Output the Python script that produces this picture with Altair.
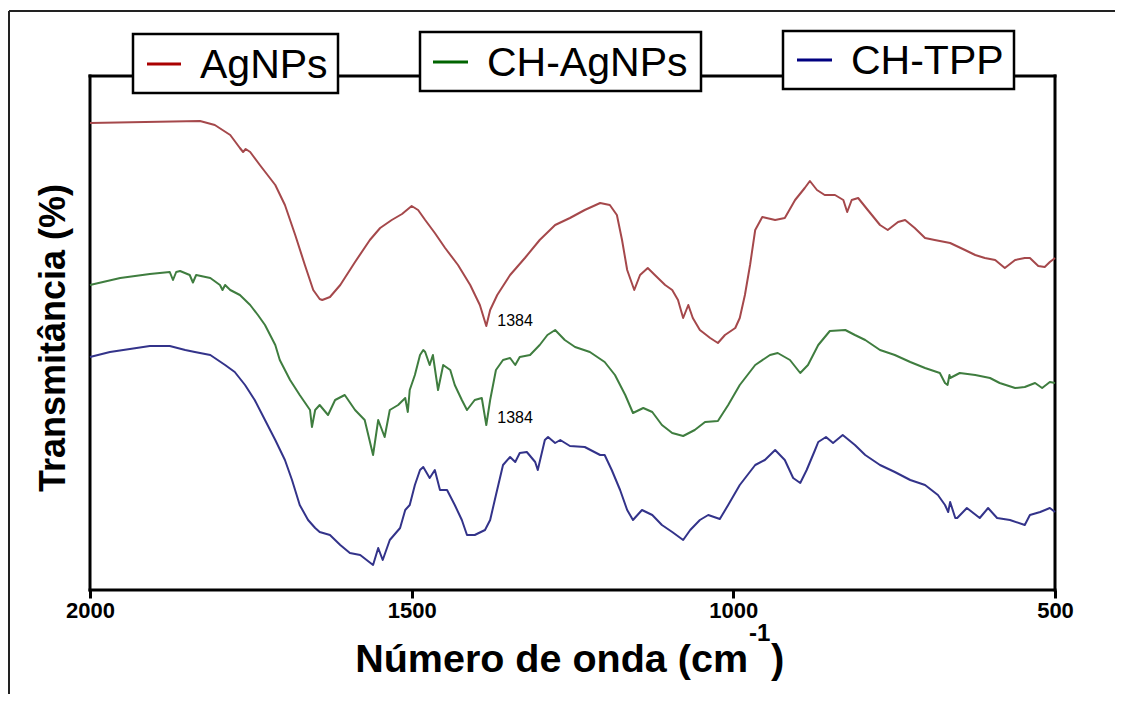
import altair as alt
import pandas as pd

# ---- data (wavenumber cm-1, relative transmittance, arbitrary offset units) ----
agnps_wn = [2000, 1829, 1806, 1782, 1767, 1762, 1758, 1751, 1736, 1712, 1697, 1681, 1666, 1653,
            1643, 1639, 1627, 1611, 1588, 1565, 1549, 1531, 1515, 1500, 1490, 1479, 1464, 1448,
            1428, 1409, 1394, 1384, 1378, 1367, 1347, 1324, 1301, 1277, 1254, 1231, 1207, 1192,
            1181, 1173, 1165, 1154, 1145, 1133, 1122, 1106, 1095, 1086, 1078, 1070, 1063, 1052,
            1036, 1024, 1013, 997, 990, 982, 974, 966, 955, 935, 920, 904, 889, 881, 870, 858,
            842, 829, 823, 816, 806, 791, 772, 760, 744, 733, 718, 702, 687, 663, 640, 624, 609,
            593, 578, 562, 547, 539, 526, 516, 508, 500]
agnps_t = [93.4, 93.8, 93.0, 91.0, 88.4, 87.6, 88.2, 87.6, 85.0, 81.0, 77.0, 71.0, 65.0, 60.0,
           58.2, 58.0, 58.6, 61.0, 65.6, 70.0, 72.4, 74.0, 75.2, 76.8, 76.0, 74.0, 71.4, 68.4,
           65.0, 61.0, 57.0, 52.8, 56.0, 59.0, 63.0, 66.4, 70.0, 73.0, 74.4, 76.0, 77.4, 77.0,
           75.0, 70.0, 64.0, 60.0, 63.0, 64.4, 63.0, 61.0, 60.0, 58.0, 54.4, 57.0, 54.4, 52.0,
           50.4, 49.4, 51.0, 52.4, 54.4, 59.0, 65.0, 72.0, 74.6, 74.0, 74.4, 78.0, 80.4, 81.8,
           80.0, 79.0, 79.0, 78.0, 75.6, 78.0, 78.4, 76.0, 73.0, 72.0, 73.6, 74.0, 72.4, 70.4,
           70.0, 69.4, 68.0, 67.0, 66.4, 66.0, 64.4, 66.0, 66.4, 66.4, 64.8, 64.6, 65.6, 66.4]

chagnps_wn = [2000, 1953, 1907, 1876, 1871, 1866, 1860, 1845, 1840, 1835, 1813, 1798, 1794, 1790,
              1782, 1767, 1751, 1739, 1728, 1712, 1705, 1689, 1674, 1658, 1655, 1650, 1643, 1630,
              1619, 1604, 1588, 1573, 1560, 1552, 1542, 1534, 1521, 1510, 1506, 1503, 1495, 1487,
              1482, 1479, 1472, 1467, 1459, 1451, 1440, 1433, 1422, 1414, 1402, 1391, 1384, 1378,
              1369, 1358, 1347, 1339, 1332, 1316, 1301, 1289, 1277, 1262, 1246, 1223, 1200, 1184,
              1168, 1156, 1140, 1126, 1111, 1095, 1078, 1060, 1044, 1024, 1008, 990, 966, 943, 931,
              912, 896, 884, 868, 850, 826, 811, 795, 772, 749, 725, 702, 679, 671, 667, 664, 663,
              648, 624, 601, 586, 562, 547, 531, 520, 508, 500]
chagnps_t = [61.0, 62.4, 63.2, 63.6, 62.0, 63.6, 63.8, 63.0, 61.5, 63.0, 62.4, 61.0, 60.0, 61.0,
             60.0, 59.0, 57.0, 55.0, 53.0, 49.0, 46.0, 42.0, 39.0, 36.0, 32.6, 36.0, 37.0, 35.0,
             38.0, 39.0, 36.0, 34.0, 27.0, 34.0, 30.6, 36.0, 37.0, 38.4, 35.6, 40.0, 43.0, 47.0,
             48.0, 47.6, 45.0, 47.0, 40.0, 45.0, 44.0, 41.0, 38.0, 36.0, 38.0, 38.4, 33.0, 38.0,
             44.0, 46.0, 46.4, 45.0, 46.6, 47.0, 49.0, 51.0, 52.0, 50.0, 48.6, 47.6, 45.6, 43.0,
             39.0, 35.4, 36.4, 35.6, 33.0, 31.4, 30.8, 32.0, 33.6, 33.8, 37.0, 41.0, 45.0, 47.0, 47.4,
             46.0, 43.4, 45.0, 49.0, 51.8, 52.0, 51.0, 50.0, 48.0, 47.0, 45.6, 44.4, 43.4, 41.4, 41.0,
             43.0, 42.4, 43.4, 43.0, 42.4, 41.4, 40.4, 40.6, 41.4, 40.4, 41.6, 41.4]

chtpp_wn = [2000, 1969, 1938, 1907, 1876, 1852, 1837, 1813, 1790, 1775, 1759, 1744, 1728, 1712,
            1697, 1686, 1674, 1661, 1650, 1643, 1627, 1611, 1596, 1580, 1560, 1552, 1545, 1534,
            1518, 1510, 1503, 1495, 1487, 1482, 1472, 1464, 1456, 1445, 1433, 1422, 1414, 1402,
            1386, 1378, 1369, 1358, 1347, 1339, 1332, 1321, 1308, 1304, 1293, 1288, 1277, 1269,
            1254, 1231, 1207, 1200, 1189, 1176, 1165, 1156, 1142, 1126, 1111, 1095, 1078, 1067,
            1052, 1039, 1021, 1008, 990, 966, 951, 935, 920, 907, 896, 886, 873, 868, 856, 845,
            830, 811, 795, 772, 749, 725, 702, 682, 671, 666, 663, 655, 652, 637, 617, 604, 590,
            570, 547, 539, 523, 508, 500]
chtpp_t = [46.6, 47.6, 48.2, 48.8, 48.8, 48.0, 47.6, 47.0, 45.0, 43.6, 41.0, 38.0, 34.0, 30.0,
           26.0, 22.0, 17.0, 14.0, 12.4, 11.6, 11.0, 9.0, 7.4, 7.0, 5.0, 8.4, 6.0, 10.0,
           12.4, 16.0, 17.0, 21.0, 24.0, 24.6, 22.4, 24.0, 20.0, 20.0, 17.0, 14.0, 11.0, 11.0,
           12.0, 14.0, 19.0, 25.0, 26.6, 25.6, 27.4, 27.6, 25.6, 24.0, 30.0, 30.6, 29.4, 30.0,
           28.8, 28.6, 27.0, 27.0, 24.0, 20.0, 16.0, 14.0, 16.0, 15.0, 13.0, 11.6, 10.0, 12.0,
           14.0, 15.0, 14.2, 17.0, 21.0, 25.0, 26.0, 28.0, 26.0, 22.4, 21.4, 24.0, 28.0, 29.6, 30.6, 29.4,
           31.0, 29.0, 27.0, 25.0, 23.6, 22.0, 21.0, 19.0, 17.0, 15.6, 17.6, 14.4, 14.4, 16.4, 14.4, 16.4, 14.4,
           14.0, 13.0, 15.0, 15.6, 16.4, 15.6]

series_names = ["AgNPs", "CH-AgNPs", "CH-TPP"]
curve_colors = ["#a5484b", "#3f7d3f", "#33338a"]
legend_colors = ["#aa0000", "#006400", "#000080"]

peak_wn = [1384, 1384]
peak_t = [53.8, 34.4]
peak_labels = ["1384", "1384"]

tick_values = [2000, 1500, 1000, 500]

x_title = "Número de onda (cm"
x_title_sup = "-1"
y_title = "Transmitância (%)"

# ---- build tables ----
rows = []
for name, wns, ts in zip(series_names, [agnps_wn, chagnps_wn, chtpp_wn],
                         [agnps_t, chagnps_t, chtpp_t]):
    for i, (w, t) in enumerate(zip(wns, ts)):
        rows.append({"series": name, "wn": w, "t": t, "order": i})
df = pd.DataFrame(rows)
peaks = pd.DataFrame({"wn": peak_wn, "t": peak_t, "label": peak_labels})
one = pd.DataFrame({"a": [0]})

W, H = 965, 514
FONT = "Liberation Sans"

xscale = alt.Scale(domain=[2000, 500], nice=False, zero=False)
yscale = alt.Scale(domain=[0, 102.8], nice=False, zero=False)

lines = alt.Chart(df).mark_line(strokeWidth=2, strokeJoin="round").encode(
    x=alt.X("wn:Q", scale=xscale,
            axis=alt.Axis(values=tick_values, format="d", title=None, grid=False,
                          domain=False, ticks=True, tickSize=8, tickWidth=3,
                          tickColor="black", labelFont=FONT, labelFontSize=22,
                          labelFontWeight="bold", labelColor="black", labelPadding=2,
                          labelFlush=False)),
    y=alt.Y("t:Q", scale=yscale, axis=None),
    color=alt.Color("series:N", scale=alt.Scale(domain=series_names, range=curve_colors),
                    legend=None),
    order="order:Q",
    detail="series:N",
)

ann = alt.Chart(peaks).mark_text(align="left", baseline="middle", dx=11, font=FONT,
                                 fontSize=16, color="black").encode(
    x=alt.X("wn:Q", scale=xscale), y=alt.Y("t:Q", scale=yscale), text="label:N")

def rule(**enc):
    return alt.Chart(one).mark_rule(color="black", strokeWidth=3, strokeCap="square").encode(**enc)

def thin_rule(**enc):
    return alt.Chart(one).mark_rule(color="#222222", strokeWidth=2).encode(**enc)

frame = [
    # outer page frame
    thin_rule(x=alt.value(-81), y=alt.value(-65), y2=alt.value(H + 104)),
    thin_rule(x=alt.value(-81), x2=alt.value(W + 60), y=alt.value(-65)),
    # plot box
    rule(x=alt.value(0), y=alt.value(0), y2=alt.value(H)),
    rule(x=alt.value(W), y=alt.value(0), y2=alt.value(H)),
    rule(x=alt.value(0), x2=alt.value(W), y=alt.value(0)),
    rule(x=alt.value(0), x2=alt.value(W), y=alt.value(H)),
]

# legend boxes (page px minus plot origin 90,76)
boxes = [(43, 248, -42, 17, 57, 91, -12, 110),
         (330, 611, -44, 15, 343, 378, -14, 397),
         (693, 924, -45, 13, 707, 742, -16, 761)]
legend_layers = []
for (bx1, bx2, by1, by2, lx1, lx2, ly, tx), name, col in zip(boxes, series_names, legend_colors):
    legend_layers.append(alt.Chart(one).mark_rect(fill="white", stroke="black", strokeWidth=2.5).encode(
        x=alt.value(bx1), x2=alt.value(bx2), y=alt.value(by1), y2=alt.value(by2)))
    legend_layers.append(alt.Chart(one).mark_rule(color=col, strokeWidth=3).encode(
        x=alt.value(lx1), x2=alt.value(lx2), y=alt.value(ly)))
    legend_layers.append(alt.Chart(one).mark_text(align="left", baseline="middle", font=FONT,
                                                  fontSize=41, color="black", dy=2).encode(
        x=alt.value(tx), y=alt.value(ly), text=alt.value(name)))

titles = [
    alt.Chart(one).mark_text(align="right", baseline="alphabetic", font=FONT, fontSize=39.5,
                             fontWeight="bold", color="black").encode(
        x=alt.value(658), y=alt.value(596), text=alt.value(x_title)),
    alt.Chart(one).mark_text(align="left", baseline="alphabetic", font=FONT, fontSize=24,
                             fontWeight="bold", color="black").encode(
        x=alt.value(659), y=alt.value(565), text=alt.value(x_title_sup)),
    alt.Chart(one).mark_text(align="left", baseline="alphabetic", font=FONT, fontSize=40,
                             fontWeight="bold", color="black").encode(
        x=alt.value(681), y=alt.value(597), text=alt.value(")")),
    alt.Chart(one).mark_text(align="center", baseline="middle", font=FONT, fontSize=36,
                             fontWeight="bold", color="black", angle=270).encode(
        x=alt.value(-36), y=alt.value(262), text=alt.value(y_title)),
]

chart = alt.layer(*frame, lines, ann, *legend_layers, *titles).properties(
    width=W, height=H,
    padding={"left": 82, "top": 68, "right": 60, "bottom": 104},
    autosize=alt.AutoSizeParams(type="none"),
    background="white",
).configure_view(strokeWidth=0)

chart.save("out.html", embed_options={"renderer": "svg", "actions": False})
